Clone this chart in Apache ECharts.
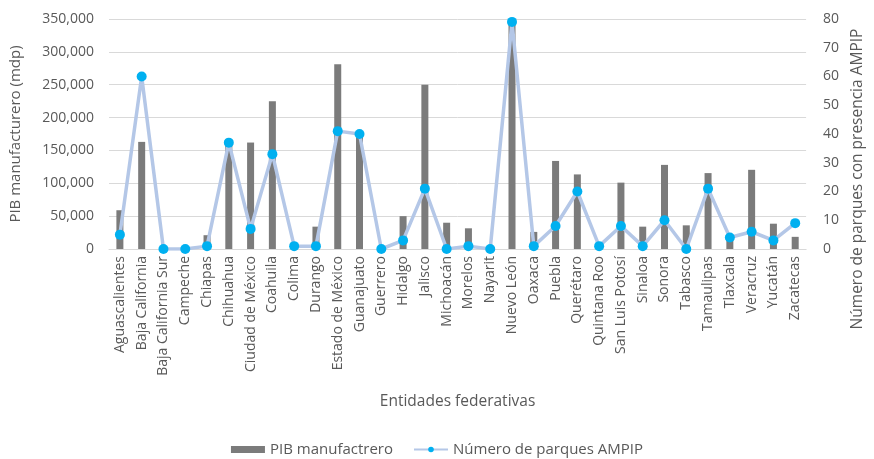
<!DOCTYPE html>
<html>
<head>
<meta charset="utf-8">
<script src="https://cdn.jsdelivr.net/npm/echarts@6/dist/echarts.min.js"></script>
<style>
  html, body { margin: 0; padding: 0; background: #ffffff; }
  #chart { width: 874px; height: 459px; }
</style>
</head>
<body>
<div id="chart"></div>
<script>
// Entidades federativas
const estados = [
  'Aguascalientes', 'Baja California', 'Baja California Sur', 'Campeche', 'Chiapas',
  'Chihuahua', 'Ciudad de México', 'Coahuila', 'Colima', 'Durango',
  'Estado de México', 'Guanajuato', 'Guerrero', 'Hidalgo', 'Jalisco',
  'Michoacán', 'Morelos', 'Nayarit', 'Nuevo León', 'Oaxaca',
  'Puebla', 'Querétaro', 'Quintana Roo', 'San Luis Potosí', 'Sinaloa',
  'Sonora', 'Tabasco', 'Tamaulipas', 'Tlaxcala', 'Veracruz',
  'Yucatán', 'Zacatecas'
];

// PIB manufacturero (millones de pesos)
const pibManufacturero = [
  59000, 163000, 0, 0, 21000,
  160000, 162000, 225000, 0, 34000,
  281000, 175000, 0, 50000, 250000,
  40000, 31500, 0, 345000, 26000,
  134000, 113500, 0, 101000, 34000,
  128000, 36000, 115500, 20000, 120500,
  38500, 18500
];

// Número de parques AMPIP
const parquesAmpip = [
  5, 60, 0, 0, 1,
  37, 7, 33, 1, 1,
  41, 40, 0, 3, 21,
  0, 1, 0, 79, 1,
  8, 20, 1, 8, 1,
  10, 0, 21, 4, 6,
  3, 9
];

// Ejes
const pibTicks = { min: 0, max: 350000, interval: 50000 };
const parquesTicks = { min: 0, max: 80, interval: 10 };

const textColor = '#595959';
const fontFamily = '"Open Sans", "Noto Sans", sans-serif';

const chart = echarts.init(document.getElementById('chart'), null, { renderer: 'canvas' });

chart.setOption({
  animation: false,
  backgroundColor: '#ffffff',
  textStyle: { fontFamily: fontFamily, color: textColor },
  grid: { left: 104, right: 56, top: 19, bottom: 210, containLabel: false },
  legend: {
    top: 437,
    left: 'center',
    itemWidth: 34,
    itemHeight: 7,
    itemGap: 20,
    textStyle: { color: textColor, fontSize: 15, fontFamily: fontFamily },
    data: [
      { name: 'PIB manufactrero', icon: 'rect' },
      { name: 'Número de parques AMPIP' }
    ]
  },
  xAxis: {
    type: 'category',
    data: estados,
    name: 'Entidades federativas',
    nameLocation: 'middle',
    nameGap: 145,
    nameTextStyle: { color: textColor, fontSize: 15.5 },
    axisLine: { lineStyle: { color: '#d9d9d9' } },
    axisTick: { show: false },
    axisLabel: { rotate: 90, interval: 0, color: textColor, fontSize: 14, margin: 7 }
  },
  yAxis: [
    {
      type: 'value',
      min: pibTicks.min,
      max: pibTicks.max,
      interval: pibTicks.interval,
      name: 'PIB manufacturero (mdp)',
      nameLocation: 'middle',
      nameGap: 86,
      nameTextStyle: { color: textColor, fontSize: 15 },
      axisLine: { show: false },
      axisTick: { show: false },
      axisLabel: {
        color: textColor, fontSize: 14, margin: 15,
        formatter: v => v.toLocaleString('en-US')
      },
      splitLine: { lineStyle: { color: '#d9d9d9', width: 1 } }
    },
    {
      type: 'value',
      min: parquesTicks.min,
      max: parquesTicks.max,
      interval: parquesTicks.interval,
      position: 'right',
      name: 'Número de parques con presencia AMPIP',
      nameLocation: 'middle',
      nameGap: 40,
      nameRotate: 90,
      nameTextStyle: { color: textColor, fontSize: 15.5, padding: [0, 90, 0, 0] },
      axisLine: { show: false },
      axisTick: { show: false },
      axisLabel: { color: textColor, fontSize: 14, margin: 17 },
      splitLine: { show: false }
    }
  ],
  series: [
    {
      name: 'PIB manufactrero',
      type: 'bar',
      yAxisIndex: 0,
      data: pibManufacturero,
      barWidth: 7,
      itemStyle: { color: '#7b7b7b' }
    },
    {
      name: 'Número de parques AMPIP',
      type: 'line',
      yAxisIndex: 1,
      data: parquesAmpip,
      symbol: 'circle',
      symbolSize: 10,
      lineStyle: { color: '#b4c7e7', width: 3.5 },
      itemStyle: { color: '#00b0f0', borderWidth: 0 }
    }
  ]
});
</script>
</body>
</html>
